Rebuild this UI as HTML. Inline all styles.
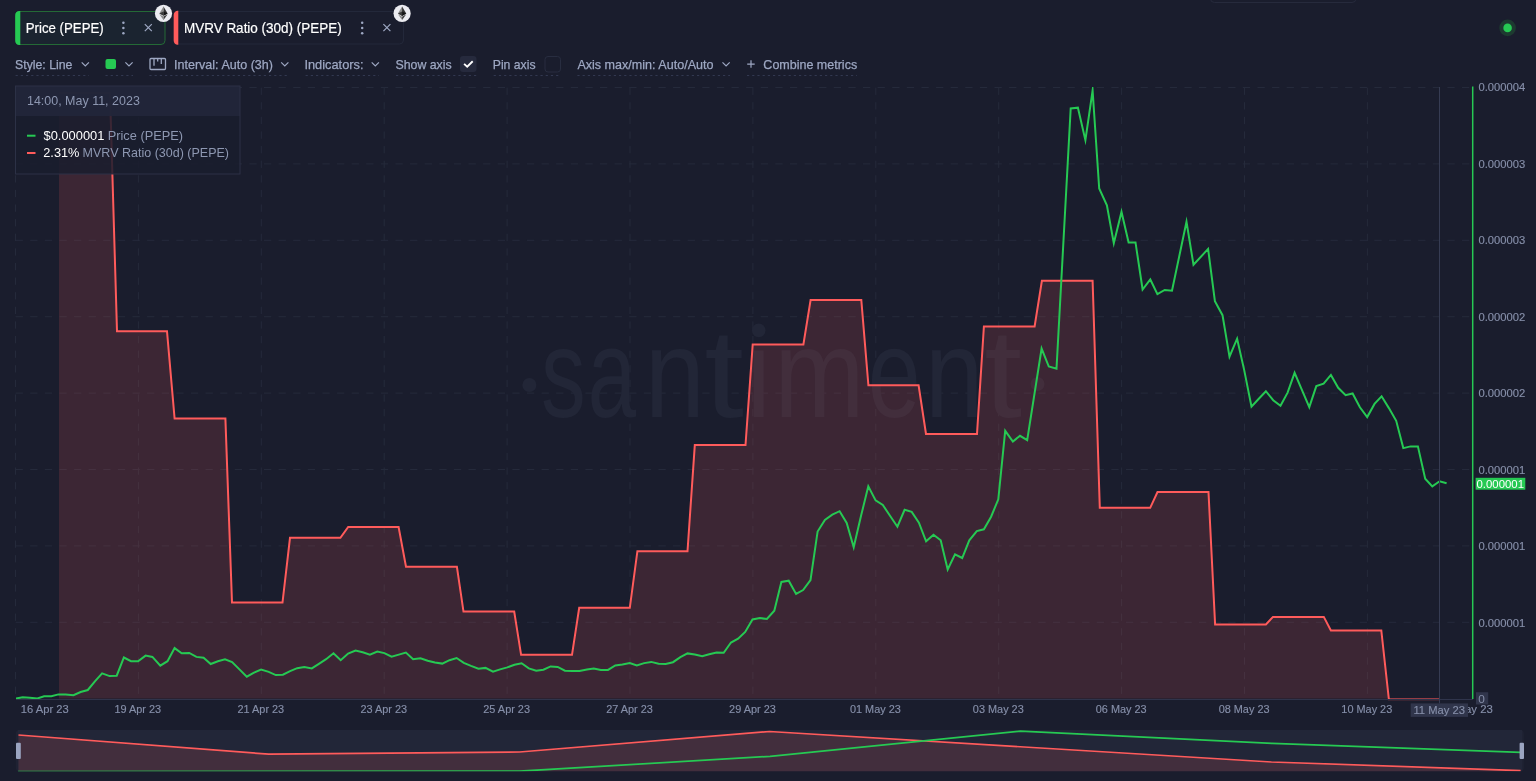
<!DOCTYPE html>
<html><head><meta charset="utf-8"><title>Santiment chart</title><style>
html,body{margin:0;padding:0;width:1536px;height:781px;overflow:hidden;background:#1a1d2d;font-family:"Liberation Sans",sans-serif;}
svg{display:block}
</style></head><body>
<svg style="will-change:transform" width="1536" height="781" viewBox="0 0 1536 781" font-family="Liberation Sans, sans-serif"><defs><clipPath id="cp"><rect x="16" y="87" width="1456" height="613.3"/></clipPath><clipPath id="nav"><rect x="18" y="730" width="1504" height="41.2"/></clipPath></defs><rect width="1536" height="781" fill="#1a1d2d"/>
<rect x="1210.5" y="-12" width="145.5" height="14.5" rx="4" fill="none" stroke="#262a3c"/>
<rect x="15.5" y="11.5" width="149.5" height="33" rx="4" fill="#1b2430" stroke="#246a36"/>
<path d="M19.5 11 H20.3 V45 H19.5 A4 4 0 0 1 15.3 41 V15 A4 4 0 0 1 19.5 11Z" fill="#26c953"/>
<rect x="174" y="11.5" width="229.5" height="32.5" rx="4" fill="#1a1d2d" stroke="#23283a"/>
<path d="M177.8 10.8 H178.3 V44.8 H177.8 A4 4 0 0 1 173.7 40.8 V14.8 A4 4 0 0 1 177.8 10.8Z" fill="#ff5b5b"/>
<text x="25.74" y="33.00" font-size="15" fill="#ffffff" textLength="78.03" lengthAdjust="spacingAndGlyphs" stroke="#ffffff" stroke-width="0.2">Price (PEPE)</text>
<text x="183.92" y="32.90" font-size="15" fill="#ffffff" textLength="157.93" lengthAdjust="spacingAndGlyphs" stroke="#ffffff" stroke-width="0.2">MVRV Ratio (30d) (PEPE)</text>
<circle cx="123.4" cy="22.8" r="1.25" fill="#9ea8c3"/><circle cx="123.4" cy="28.0" r="1.25" fill="#9ea8c3"/><circle cx="123.4" cy="33.2" r="1.25" fill="#9ea8c3"/>
<circle cx="362.2" cy="22.8" r="1.25" fill="#9ea8c3"/><circle cx="362.2" cy="28.0" r="1.25" fill="#9ea8c3"/><circle cx="362.2" cy="33.2" r="1.25" fill="#9ea8c3"/>
<path d="M144.8 24.2L151.8 31.2M151.8 24.2L144.8 31.2" stroke="#9ea8c3" stroke-width="1.2"/>
<path d="M383.4 24.2L390.4 31.2M390.4 24.2L383.4 31.2" stroke="#9ea8c3" stroke-width="1.2"/>
<circle cx="163.5" cy="13.4" r="8.6" fill="#ececf1"/><g transform="translate(159.35 6.50) scale(0.03242)"><path d="M127.9 0L125.1 9.5V285.2L127.9 288L255.9 212.3Z" fill="#343434"/><path d="M127.9 0L0 212.3L127.9 288V154.2Z" fill="#8c8c8c"/><path d="M127.9 312.2L126.3 314.1V412.4L127.9 416.9L256 236.6Z" fill="#3c3c3b"/><path d="M127.9 416.9V312.2L0 236.6Z" fill="#8c8c8c"/><path d="M127.9 288L255.9 212.3L127.9 154.2Z" fill="#141414"/><path d="M0 212.3L127.9 288V154.2Z" fill="#393939"/></g>
<circle cx="402.1" cy="13.45" r="8.6" fill="#ececf1"/><g transform="translate(397.95 6.55) scale(0.03242)"><path d="M127.9 0L125.1 9.5V285.2L127.9 288L255.9 212.3Z" fill="#343434"/><path d="M127.9 0L0 212.3L127.9 288V154.2Z" fill="#8c8c8c"/><path d="M127.9 312.2L126.3 314.1V412.4L127.9 416.9L256 236.6Z" fill="#3c3c3b"/><path d="M127.9 416.9V312.2L0 236.6Z" fill="#8c8c8c"/><path d="M127.9 288L255.9 212.3L127.9 154.2Z" fill="#141414"/><path d="M0 212.3L127.9 288V154.2Z" fill="#393939"/></g>
<text x="15.05" y="68.80" font-size="13.4" fill="#9ea8c3" textLength="57.40" lengthAdjust="spacingAndGlyphs" stroke="#9ea8c3" stroke-width="0.25">Style: Line</text>
<text x="173.97" y="68.80" font-size="13.4" fill="#9ea8c3" textLength="99.02" lengthAdjust="spacingAndGlyphs" stroke="#9ea8c3" stroke-width="0.25">Interval: Auto (3h)</text>
<text x="304.45" y="68.80" font-size="13.4" fill="#9ea8c3" textLength="59.05" lengthAdjust="spacingAndGlyphs" stroke="#9ea8c3" stroke-width="0.25">Indicators:</text>
<text x="395.44" y="68.80" font-size="13.4" fill="#9ea8c3" textLength="56.26" lengthAdjust="spacingAndGlyphs" stroke="#9ea8c3" stroke-width="0.25">Show axis</text>
<text x="492.72" y="68.80" font-size="13.4" fill="#9ea8c3" textLength="42.83" lengthAdjust="spacingAndGlyphs" stroke="#9ea8c3" stroke-width="0.25">Pin axis</text>
<text x="577.40" y="68.80" font-size="13.4" fill="#9ea8c3" textLength="136.14" lengthAdjust="spacingAndGlyphs" stroke="#9ea8c3" stroke-width="0.25">Axis max/min: Auto/Auto</text>
<text x="763.37" y="68.80" font-size="13.4" fill="#9ea8c3" textLength="93.79" lengthAdjust="spacingAndGlyphs" stroke="#9ea8c3" stroke-width="0.25">Combine metrics</text>
<path d="M81.7 62.3L85.3 65.9L88.9 62.3" fill="none" stroke="#9ea8c3" stroke-width="1.2"/>
<path d="M125.4 62.3L129.0 65.9L132.6 62.3" fill="none" stroke="#9ea8c3" stroke-width="1.2"/>
<path d="M281.2 62.3L284.8 65.9L288.4 62.3" fill="none" stroke="#9ea8c3" stroke-width="1.2"/>
<path d="M371.7 62.3L375.3 65.9L378.9 62.3" fill="none" stroke="#9ea8c3" stroke-width="1.2"/>
<path d="M722.5 62.3L726.1 65.9L729.7 62.3" fill="none" stroke="#9ea8c3" stroke-width="1.2"/>
<rect x="105.5" y="59" width="10.5" height="10" rx="2" fill="#26c953"/>
<rect x="150" y="58.5" width="15.5" height="11" rx="1" fill="none" stroke="#9ea8c3" stroke-width="1.3"/><path d="M154 59v6.7M157.7 59v2.6M161.3 59v4.9" stroke="#9ea8c3" stroke-width="1.3"/>
<rect x="460" y="56" width="16.5" height="16" rx="3" fill="#262a3d"/>
<path d="M464.1 63.9L467.2 66.7L472.7 61.3" fill="none" stroke="#ffffff" stroke-width="1.9"/>
<rect x="545" y="56.5" width="15.5" height="15.5" rx="3" fill="none" stroke="#282d40"/>
<path d="M751 60.3v7.5M747.2 64.05h7.5" stroke="#9ea8c3" stroke-width="1.2"/>
<line x1="15.6" y1="75.5" x2="89" y2="75.5" stroke="#323850" stroke-dasharray="2.2 3"/>
<line x1="105.5" y1="75.5" x2="133" y2="75.5" stroke="#323850" stroke-dasharray="2.2 3"/>
<line x1="149.4" y1="75.5" x2="288.5" y2="75.5" stroke="#323850" stroke-dasharray="2.2 3"/>
<line x1="305.6" y1="75.5" x2="379" y2="75.5" stroke="#323850" stroke-dasharray="2.2 3"/>
<line x1="396" y1="75.5" x2="476.5" y2="75.5" stroke="#323850" stroke-dasharray="2.2 3"/>
<line x1="493.7" y1="75.5" x2="560.5" y2="75.5" stroke="#323850" stroke-dasharray="2.2 3"/>
<line x1="577.4" y1="75.5" x2="730" y2="75.5" stroke="#323850" stroke-dasharray="2.2 3"/>
<line x1="747" y1="75.5" x2="857" y2="75.5" stroke="#323850" stroke-dasharray="2.2 3"/>
<circle cx="1507.6" cy="27.9" r="8.3" fill="#1d3a30"/><circle cx="1507.6" cy="27.9" r="4.3" fill="#26c953"/>
<g stroke="#252a3b" stroke-width="1" stroke-dasharray="7.3 7.31"><line x1="15.6" y1="87.5" x2="1470" y2="87.5"/><line x1="15.6" y1="163.9" x2="1470" y2="163.9"/><line x1="15.6" y1="240.3" x2="1470" y2="240.3"/><line x1="15.6" y1="316.7" x2="1470" y2="316.7"/><line x1="15.6" y1="393.1" x2="1470" y2="393.1"/><line x1="15.6" y1="469.5" x2="1470" y2="469.5"/><line x1="15.6" y1="545.9" x2="1470" y2="545.9"/><line x1="15.6" y1="622.3" x2="1470" y2="622.3"/><line x1="15.5" y1="87.6" x2="15.5" y2="698.6"/><line x1="138.4" y1="87.6" x2="138.4" y2="698.6"/><line x1="261.3" y1="87.6" x2="261.3" y2="698.6"/><line x1="384.2" y1="87.6" x2="384.2" y2="698.6"/><line x1="507.1" y1="87.6" x2="507.1" y2="698.6"/><line x1="630" y1="87.6" x2="630" y2="698.6"/><line x1="752.9" y1="87.6" x2="752.9" y2="698.6"/><line x1="875.8" y1="87.6" x2="875.8" y2="698.6"/><line x1="998.7" y1="87.6" x2="998.7" y2="698.6"/><line x1="1121.6" y1="87.6" x2="1121.6" y2="698.6"/><line x1="1244.5" y1="87.6" x2="1244.5" y2="698.6"/><line x1="1367.4" y1="87.6" x2="1367.4" y2="698.6"/></g>
<g><text x="541.12" y="417.00" font-size="126.5" fill="#222637" textLength="44.71" lengthAdjust="spacingAndGlyphs" >s</text><text x="587.72" y="417.00" font-size="126.5" fill="#222637" textLength="48.38" lengthAdjust="spacingAndGlyphs" >a</text><text x="644.76" y="417.00" font-size="126.5" fill="#222637" textLength="60.20" lengthAdjust="spacingAndGlyphs" >n</text><text x="704.16" y="417.00" font-size="126.5" fill="#222637" textLength="39.66" lengthAdjust="spacingAndGlyphs" >t</text><text x="774.35" y="417.00" font-size="126.5" fill="#222637" textLength="90.39" lengthAdjust="spacingAndGlyphs" >m</text><text x="867.80" y="417.00" font-size="126.5" fill="#222637" textLength="52.90" lengthAdjust="spacingAndGlyphs" >e</text><text x="924.98" y="417.00" font-size="126.5" fill="#222637" textLength="58.37" lengthAdjust="spacingAndGlyphs" >n</text><text x="984.36" y="417.00" font-size="126.5" fill="#222637" textLength="37.80" lengthAdjust="spacingAndGlyphs" >t</text><circle cx="529.4" cy="385" r="7" fill="#222637"/><rect x="753.7" y="350.5" width="10" height="66.5" fill="#222637"/><circle cx="758.7" cy="330.4" r="6.8" fill="#222637"/><circle cx="1037.5" cy="384" r="7" fill="#222637"/></g>
<g clip-path="url(#cp)"><path d="M59 698.6 L59 93 L110 93 L117 331.2 L167 331.2 L174.6 418.6 L225.4 418.6 L232 602.5 L282.5 602.5 L290 537.8 L340.4 537.8 L348.2 527 L398.6 527 L406 566.8 L456.9 566.8 L463.5 611.6 L514.2 611.6 L521.1 654.8 L572 654.8 L579.2 607.8 L629.8 607.8 L637.4 551.2 L687.5 551.2 L694.8 445.1 L745.5 445.1 L752.7 344.5 L803.4 344.5 L810.6 300 L861.3 300 L868.4 385.3 L918.6 385.3 L926 434 L977 434 L983.9 326.5 L1034.6 326.5 L1041.9 280.8 L1092.6 280.8 L1099.8 507.8 L1150.2 507.8 L1157.5 492.1 L1208.5 492.1 L1215.1 624.4 L1265.9 624.4 L1273 616.9 L1323.8 616.9 L1330.9 630.5 L1381.3 630.5 L1388.9 699.5 L1439.6 699.5 L1439.6 698.6 Z" fill="#ff5b5b" fill-opacity="0.15"/><path d="M59 93 L110 93 L117 331.2 L167 331.2 L174.6 418.6 L225.4 418.6 L232 602.5 L282.5 602.5 L290 537.8 L340.4 537.8 L348.2 527 L398.6 527 L406 566.8 L456.9 566.8 L463.5 611.6 L514.2 611.6 L521.1 654.8 L572 654.8 L579.2 607.8 L629.8 607.8 L637.4 551.2 L687.5 551.2 L694.8 445.1 L745.5 445.1 L752.7 344.5 L803.4 344.5 L810.6 300 L861.3 300 L868.4 385.3 L918.6 385.3 L926 434 L977 434 L983.9 326.5 L1034.6 326.5 L1041.9 280.8 L1092.6 280.8 L1099.8 507.8 L1150.2 507.8 L1157.5 492.1 L1208.5 492.1 L1215.1 624.4 L1265.9 624.4 L1273 616.9 L1323.8 616.9 L1330.9 630.5 L1381.3 630.5 L1388.9 699.5 L1439.6 699.5" fill="none" stroke="#ff5b5b" stroke-width="2" stroke-miterlimit="10"/><path d="M16 698.6 L22.7 697.3 L29.8 697.8 L37.4 698.5 L44.1 696.3 L51.3 696.3 L58.4 694.4 L65.6 694.4 L73.5 695.2 L80.6 692 L87.8 690 L94.9 681.3 L102.1 673.3 L109.6 676.1 L116.7 675.7 L123.9 657.5 L131 661.2 L138.1 661.2 L145.6 655.6 L152.4 656.9 L160.3 665.6 L167.5 661.2 L174.6 648.1 L181.7 653.3 L189.3 652.9 L196.4 656.9 L203.6 657.7 L210.7 664 L217.9 661.2 L225 659.3 L232.1 662 L239.7 669.6 L246.8 676.7 L254 672.7 L261.1 669.6 L268.7 671.9 L275.8 675.1 L282.9 674.7 L290.1 671.2 L297.2 668.2 L304.3 666.9 L311.8 668.4 L318.9 663.8 L326.1 659.2 L333.5 653.3 L340.7 660.2 L348.1 653.6 L355.5 650.5 L362.7 652.3 L369.9 654.6 L377.3 651.5 L384.4 653.1 L391.6 656.6 L398.8 654.6 L405.9 652.5 L413.1 659.2 L420.5 658.2 L427.7 660.7 L434.9 662.5 L442.3 663.6 L449.5 660.2 L456.6 658 L463.8 662.8 L471 665.9 L478.4 668.7 L485.5 667.9 L493 671.7 L500.1 669.4 L507.3 667.4 L514.5 664.8 L521.6 663.3 L528.8 668.4 L536.2 670.7 L543.4 669.7 L550.6 666.4 L557.7 666.9 L564.9 670.7 L572.1 671 L579.5 671 L586.9 669.4 L593.8 668.4 L600.9 669.9 L608 669.9 L615.3 665.5 L622.4 664.6 L629.8 663.1 L636.8 665.5 L644.2 663.1 L651.2 661.9 L658.6 663.7 L665.7 664 L673 662.2 L680.4 657.2 L687.5 653.4 L694.8 654.6 L702.2 656.3 L709.2 654.3 L716.6 652.5 L723.7 652.8 L731 642.5 L738.1 638.7 L745.2 631.9 L752.5 619.5 L759.9 618.1 L766.9 619 L774.3 610.7 L781.4 581.9 L788.7 580.7 L796.1 593.9 L803.1 590.1 L810.5 580.1 L817.6 531.5 L824.9 520 L832.3 514.7 L839.6 511.2 L846.7 523 L853.7 547.2 L861.1 515.6 L868.3 486.3 L875.6 500.4 L882.8 505 L890 515.7 L897.4 526.7 L904.6 509.8 L911.7 511.9 L918.9 522.6 L926.1 541.3 L933.5 534.7 L940.7 540.3 L947.7 569.5 L955 554.4 L962.2 558 L969.3 540.3 L976.8 531.1 L983.9 529.3 L991.1 516.7 L998.3 499.3 L1005.2 430.8 L1012.9 441.5 L1020 435.8 L1027.2 440.2 L1041.6 348.6 L1048.8 366.5 L1056.5 368.7 L1070.7 108.5 L1077.9 107.7 L1085.4 140.2 L1092.6 90.5 L1099.2 188.5 L1106.9 205.4 L1113.8 243.3 L1121.5 211.9 L1128.6 242.4 L1135.5 242.4 L1142.6 289.5 L1150.3 279.5 L1157.4 294.2 L1164.7 290 L1172 290.7 L1186.5 221.8 L1193.5 264.8 L1208.1 248.9 L1214.9 301.1 L1222.5 315.2 L1229.5 356.6 L1237.1 338.7 L1244.2 370.1 L1251.5 406.7 L1258.8 398.8 L1265.9 391.2 L1273.2 400.2 L1280.5 405.8 L1287.6 392.6 L1294.6 372.8 L1301.9 389.8 L1309.3 407.1 L1316.3 386.1 L1323.6 383.6 L1330.9 374.9 L1338.2 387.8 L1345.6 395.1 L1352.6 393.5 L1359.9 407.3 L1367.2 417.1 L1374.5 403.9 L1381.6 396.3 L1388.9 408.1 L1396.2 420.8 L1403.3 448.1 L1410.6 446.4 L1417.9 446.4 L1425.2 478.8 L1432.3 486.4 L1439.6 481.3 L1446.6 483.3" fill="none" stroke="#26c953" stroke-width="2" stroke-miterlimit="10"/></g>
<line x1="16" y1="699.5" x2="1473" y2="699.5" stroke="#2f344b"/>
<line x1="1439.5" y1="87" x2="1439.5" y2="703.5" stroke="#363c53"/>
<line x1="1472.7" y1="86.5" x2="1472.7" y2="699" stroke="#26c953" stroke-width="1.5"/>
<text x="20.86" y="712.90" font-size="11.3" fill="#868fa9" textLength="47.80" lengthAdjust="spacingAndGlyphs" stroke="#868fa9" stroke-width="0.15">16 Apr 23</text>
<text x="114.47" y="712.90" font-size="11.3" fill="#868fa9" textLength="46.69" lengthAdjust="spacingAndGlyphs" stroke="#868fa9" stroke-width="0.15">19 Apr 23</text>
<text x="237.51" y="712.90" font-size="11.3" fill="#868fa9" textLength="46.69" lengthAdjust="spacingAndGlyphs" stroke="#868fa9" stroke-width="0.15">21 Apr 23</text>
<text x="360.41" y="712.90" font-size="11.3" fill="#868fa9" textLength="46.69" lengthAdjust="spacingAndGlyphs" stroke="#868fa9" stroke-width="0.15">23 Apr 23</text>
<text x="483.31" y="712.90" font-size="11.3" fill="#868fa9" textLength="46.69" lengthAdjust="spacingAndGlyphs" stroke="#868fa9" stroke-width="0.15">25 Apr 23</text>
<text x="606.21" y="712.90" font-size="11.3" fill="#868fa9" textLength="46.69" lengthAdjust="spacingAndGlyphs" stroke="#868fa9" stroke-width="0.15">27 Apr 23</text>
<text x="729.11" y="712.90" font-size="11.3" fill="#868fa9" textLength="46.69" lengthAdjust="spacingAndGlyphs" stroke="#868fa9" stroke-width="0.15">29 Apr 23</text>
<text x="849.94" y="712.90" font-size="11.3" fill="#868fa9" textLength="50.92" lengthAdjust="spacingAndGlyphs" stroke="#868fa9" stroke-width="0.15">01 May 23</text>
<text x="972.84" y="712.90" font-size="11.3" fill="#868fa9" textLength="50.92" lengthAdjust="spacingAndGlyphs" stroke="#868fa9" stroke-width="0.15">03 May 23</text>
<text x="1095.74" y="712.90" font-size="11.3" fill="#868fa9" textLength="50.92" lengthAdjust="spacingAndGlyphs" stroke="#868fa9" stroke-width="0.15">06 May 23</text>
<text x="1218.64" y="712.90" font-size="11.3" fill="#868fa9" textLength="50.92" lengthAdjust="spacingAndGlyphs" stroke="#868fa9" stroke-width="0.15">08 May 23</text>
<text x="1341.35" y="712.90" font-size="11.3" fill="#868fa9" textLength="50.92" lengthAdjust="spacingAndGlyphs" stroke="#868fa9" stroke-width="0.15">10 May 23</text>
<text x="1439.75" y="712.90" font-size="11.3" fill="#868fa9" textLength="53.10" lengthAdjust="spacingAndGlyphs" stroke="#868fa9" stroke-width="0.15">12 May 23</text>
<text x="1478.45" y="91.10" font-size="11.3" fill="#868fa9" textLength="46.70" lengthAdjust="spacingAndGlyphs" stroke="#868fa9" stroke-width="0.15">0.000004</text>
<text x="1478.45" y="167.60" font-size="11.3" fill="#868fa9" textLength="46.81" lengthAdjust="spacingAndGlyphs" stroke="#868fa9" stroke-width="0.15">0.000003</text>
<text x="1478.45" y="244.20" font-size="11.3" fill="#868fa9" textLength="46.81" lengthAdjust="spacingAndGlyphs" stroke="#868fa9" stroke-width="0.15">0.000003</text>
<text x="1478.45" y="320.80" font-size="11.3" fill="#868fa9" textLength="46.92" lengthAdjust="spacingAndGlyphs" stroke="#868fa9" stroke-width="0.15">0.000002</text>
<text x="1478.45" y="397.30" font-size="11.3" fill="#868fa9" textLength="46.92" lengthAdjust="spacingAndGlyphs" stroke="#868fa9" stroke-width="0.15">0.000002</text>
<text x="1478.45" y="473.90" font-size="11.3" fill="#868fa9" textLength="46.87" lengthAdjust="spacingAndGlyphs" stroke="#868fa9" stroke-width="0.15">0.000001</text>
<text x="1478.45" y="550.40" font-size="11.3" fill="#868fa9" textLength="46.87" lengthAdjust="spacingAndGlyphs" stroke="#868fa9" stroke-width="0.15">0.000001</text>
<text x="1478.45" y="627.00" font-size="11.3" fill="#868fa9" textLength="46.87" lengthAdjust="spacingAndGlyphs" stroke="#868fa9" stroke-width="0.15">0.000001</text>
<rect x="1476" y="692.2" width="12.2" height="12.3" fill="#30354b"/>
<text x="1478.33" y="702.70" font-size="11.3" fill="#868fa9" textLength="6.60" lengthAdjust="spacingAndGlyphs" >0</text>
<rect x="1475.6" y="477.8" width="49.7" height="11.9" fill="#26c953"/>
<text x="1476.54" y="487.60" font-size="11.3" fill="#ffffff" textLength="47.48" lengthAdjust="spacingAndGlyphs" >0.000001</text>
<rect x="1410.7" y="703.4" width="57.3" height="13.5" fill="#30354b"/>
<text x="1413.46" y="714.00" font-size="11.3" fill="#868fa9" textLength="51.49" lengthAdjust="spacingAndGlyphs" stroke="#868fa9" stroke-width="0.15">11 May 23</text>
<rect x="15.8" y="730" width="1508" height="41.3" rx="3.5" fill="#1f2233"/>
<rect x="18" y="730" width="1504" height="41.3" fill="#222638"/>
<g clip-path="url(#nav)"><path d="M18.5 735 L268.8 754.2 L519.5 752 L769.5 731.5 L1271.4 762 L1520.6 770.6 L1520.6 772 L18.5 772 Z" fill="#ff5b5b" fill-opacity="0.15"/><path d="M18.5 735 L268.8 754.2 L519.5 752 L769.5 731.5 L1271.4 762 L1520.6 770.6" fill="none" stroke="#ff5b5b" stroke-width="1.7"/><path d="M18 771.6 L519.5 771.2 L770.1 756.3 L1020.4 731.2 L1272.2 743.4 L1520.6 752.4" fill="none" stroke="#26c953" stroke-width="1.7"/></g>
<rect x="16" y="742.7" width="4.8" height="16.3" rx="1" fill="#9aa4c0"/>
<rect x="1519.6" y="742.7" width="4.4" height="16.3" rx="1" fill="#9aa4c0"/>
<rect x="15.5" y="86" width="224.5" height="88" fill="#1a1d2d" fill-opacity="0.86"/>
<rect x="15.5" y="86" width="224.5" height="30" fill="#22263a" fill-opacity="0.95"/>
<rect x="15.5" y="86" width="224.5" height="88" fill="none" stroke="#2c3146"/>
<text x="26.96" y="105.00" font-size="13.4" fill="#8d97b1" textLength="112.88" lengthAdjust="spacingAndGlyphs" >14:00, May 11, 2023</text>
<rect x="27" y="134.7" width="8.5" height="2" fill="#26c953"/>
<rect x="27" y="152" width="8.5" height="2" fill="#ff5b5b"/>
<text x="43.47" y="139.70" font-size="13.3" fill="#ffffff" textLength="60.94" lengthAdjust="spacingAndGlyphs" >$0.000001</text>
<text x="107.73" y="139.70" font-size="13.3" fill="#8d97b1" textLength="75.31" lengthAdjust="spacingAndGlyphs" >Price (PEPE)</text>
<text x="43.26" y="157.25" font-size="13.3" fill="#ffffff" textLength="36.19" lengthAdjust="spacingAndGlyphs" >2.31%</text>
<text x="82.60" y="157.25" font-size="13.3" fill="#8d97b1" textLength="146.39" lengthAdjust="spacingAndGlyphs" >MVRV Ratio (30d) (PEPE)</text></svg>
</body></html>
